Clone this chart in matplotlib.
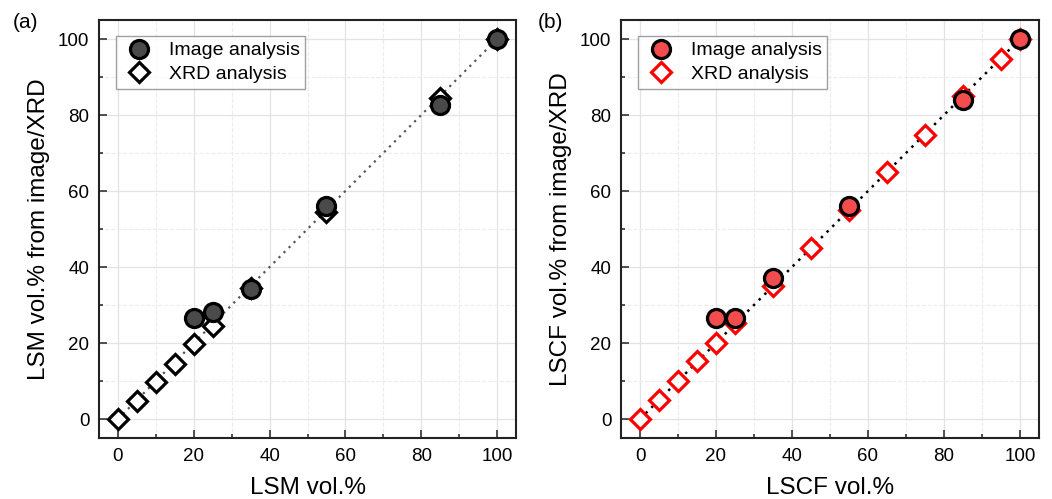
import matplotlib.pyplot as plt
from matplotlib.ticker import MultipleLocator

plt.rcParams['font.family'] = ['Liberation Sans', 'DejaVu Sans']

# panel (a) LSM
lsm_img_x = [20, 25, 35, 55, 85, 100]
lsm_img_y = [26.5, 28.2, 34.3, 56.0, 82.7, 100.0]
lsm_xrd_x = [0, 5, 10, 15, 20, 25, 35, 55, 85, 100]
lsm_xrd_y = [0.0, 4.8, 9.8, 14.6, 19.7, 24.5, 34.5, 54.5, 84.5, 100.0]

# panel (b) LSCF
lscf_img_x = [20, 25, 35, 55, 85, 100]
lscf_img_y = [26.5, 26.7, 37.0, 56.0, 84.0, 100.0]
lscf_xrd_x = [0, 5, 10, 15, 20, 25, 35, 45, 55, 65, 75, 85, 95, 100]
lscf_xrd_y = [0.0, 5.0, 10.0, 15.2, 20.0, 25.2, 35.0, 45.0, 55.0, 65.0, 74.8, 85.0, 94.8, 100.0]

fig = plt.figure(figsize=(10.52, 4.99), dpi=100)
ax1 = fig.add_axes([99 / 1052, 1 - 438 / 499, 417 / 1052, 418 / 499])
ax2 = fig.add_axes([621 / 1052, 1 - 438 / 499, 418 / 1052, 418 / 499])


def style(ax, xlabel, ylabel):
    ax.set_xlim(-5, 105)
    ax.set_ylim(-5, 105)
    ax.xaxis.set_major_locator(MultipleLocator(20))
    ax.yaxis.set_major_locator(MultipleLocator(20))
    ax.xaxis.set_minor_locator(MultipleLocator(10))
    ax.yaxis.set_minor_locator(MultipleLocator(10))
    ax.grid(which='major', color='#e3e3e3', lw=0.9)
    ax.grid(which='minor', color='#ececec', lw=0.8, ls='--')
    ax.set_axisbelow(True)
    ax.tick_params(which='both', direction='in', labelsize=13.5, width=1.2, color='#333333')
    ax.tick_params(which='major', length=5.5, pad=7)
    ax.tick_params(which='minor', length=3)
    for s in ax.spines.values():
        s.set_linewidth(1.5)
        s.set_color('#222222')
    ax.set_xlabel(xlabel, fontsize=17.5, labelpad=9)
    ax.set_ylabel(ylabel, fontsize=17.5, labelpad=6)


def add_legend(ax):
    h, l = ax.get_legend_handles_labels()
    leg = ax.legend(h[::-1], l[::-1], loc='upper left', bbox_to_anchor=(0.041, 0.962),
                    borderaxespad=0, fontsize=14, frameon=True, fancybox=False,
                    edgecolor='#888888', handletextpad=0.6, borderpad=0.3,
                    labelspacing=0.3, handlelength=1.8)
    leg.get_frame().set_linewidth(1.0)


# (a)
ax1.plot([0, 100], [0, 100], ls=(0, (1, 2.2)), color='#555555', lw=1.6, zorder=2)
ax1.plot(lsm_xrd_x, lsm_xrd_y, 'D', ms=10.5, mfc='white', mec='black', mew=2.3,
         ls='none', label='XRD analysis', zorder=3)
ax1.plot(lsm_img_x, lsm_img_y, 'o', ms=13, mfc='#4a4a4a', mec='black', mew=2.3,
         ls='none', label='Image analysis', zorder=4)
style(ax1, 'LSM vol.%', 'LSM vol.% from image/XRD')
add_legend(ax1)

# (b)
ax2.plot([0, 100], [0, 100], ls=(0, (1, 2.2)), color='black', lw=1.8, zorder=2)
ax2.plot(lscf_xrd_x, lscf_xrd_y, 'D', ms=10.5, mfc='white', mec='#ff0000', mew=2.3,
         ls='none', label='XRD analysis', zorder=3)
ax2.plot(lscf_img_x, lscf_img_y, 'o', ms=13, mfc='#f24c4c', mec='black', mew=2.3,
         ls='none', label='Image analysis', zorder=4)
style(ax2, 'LSCF vol.%', 'LSCF vol.% from image/XRD')
add_legend(ax2)

fig.text(13 / 1052, 1 - 22 / 499, '(a)', fontsize=15, va='center', ha='left')
fig.text(538 / 1052, 1 - 22 / 499, '(b)', fontsize=15, va='center', ha='left')

fig.savefig('out.png', dpi=100)
